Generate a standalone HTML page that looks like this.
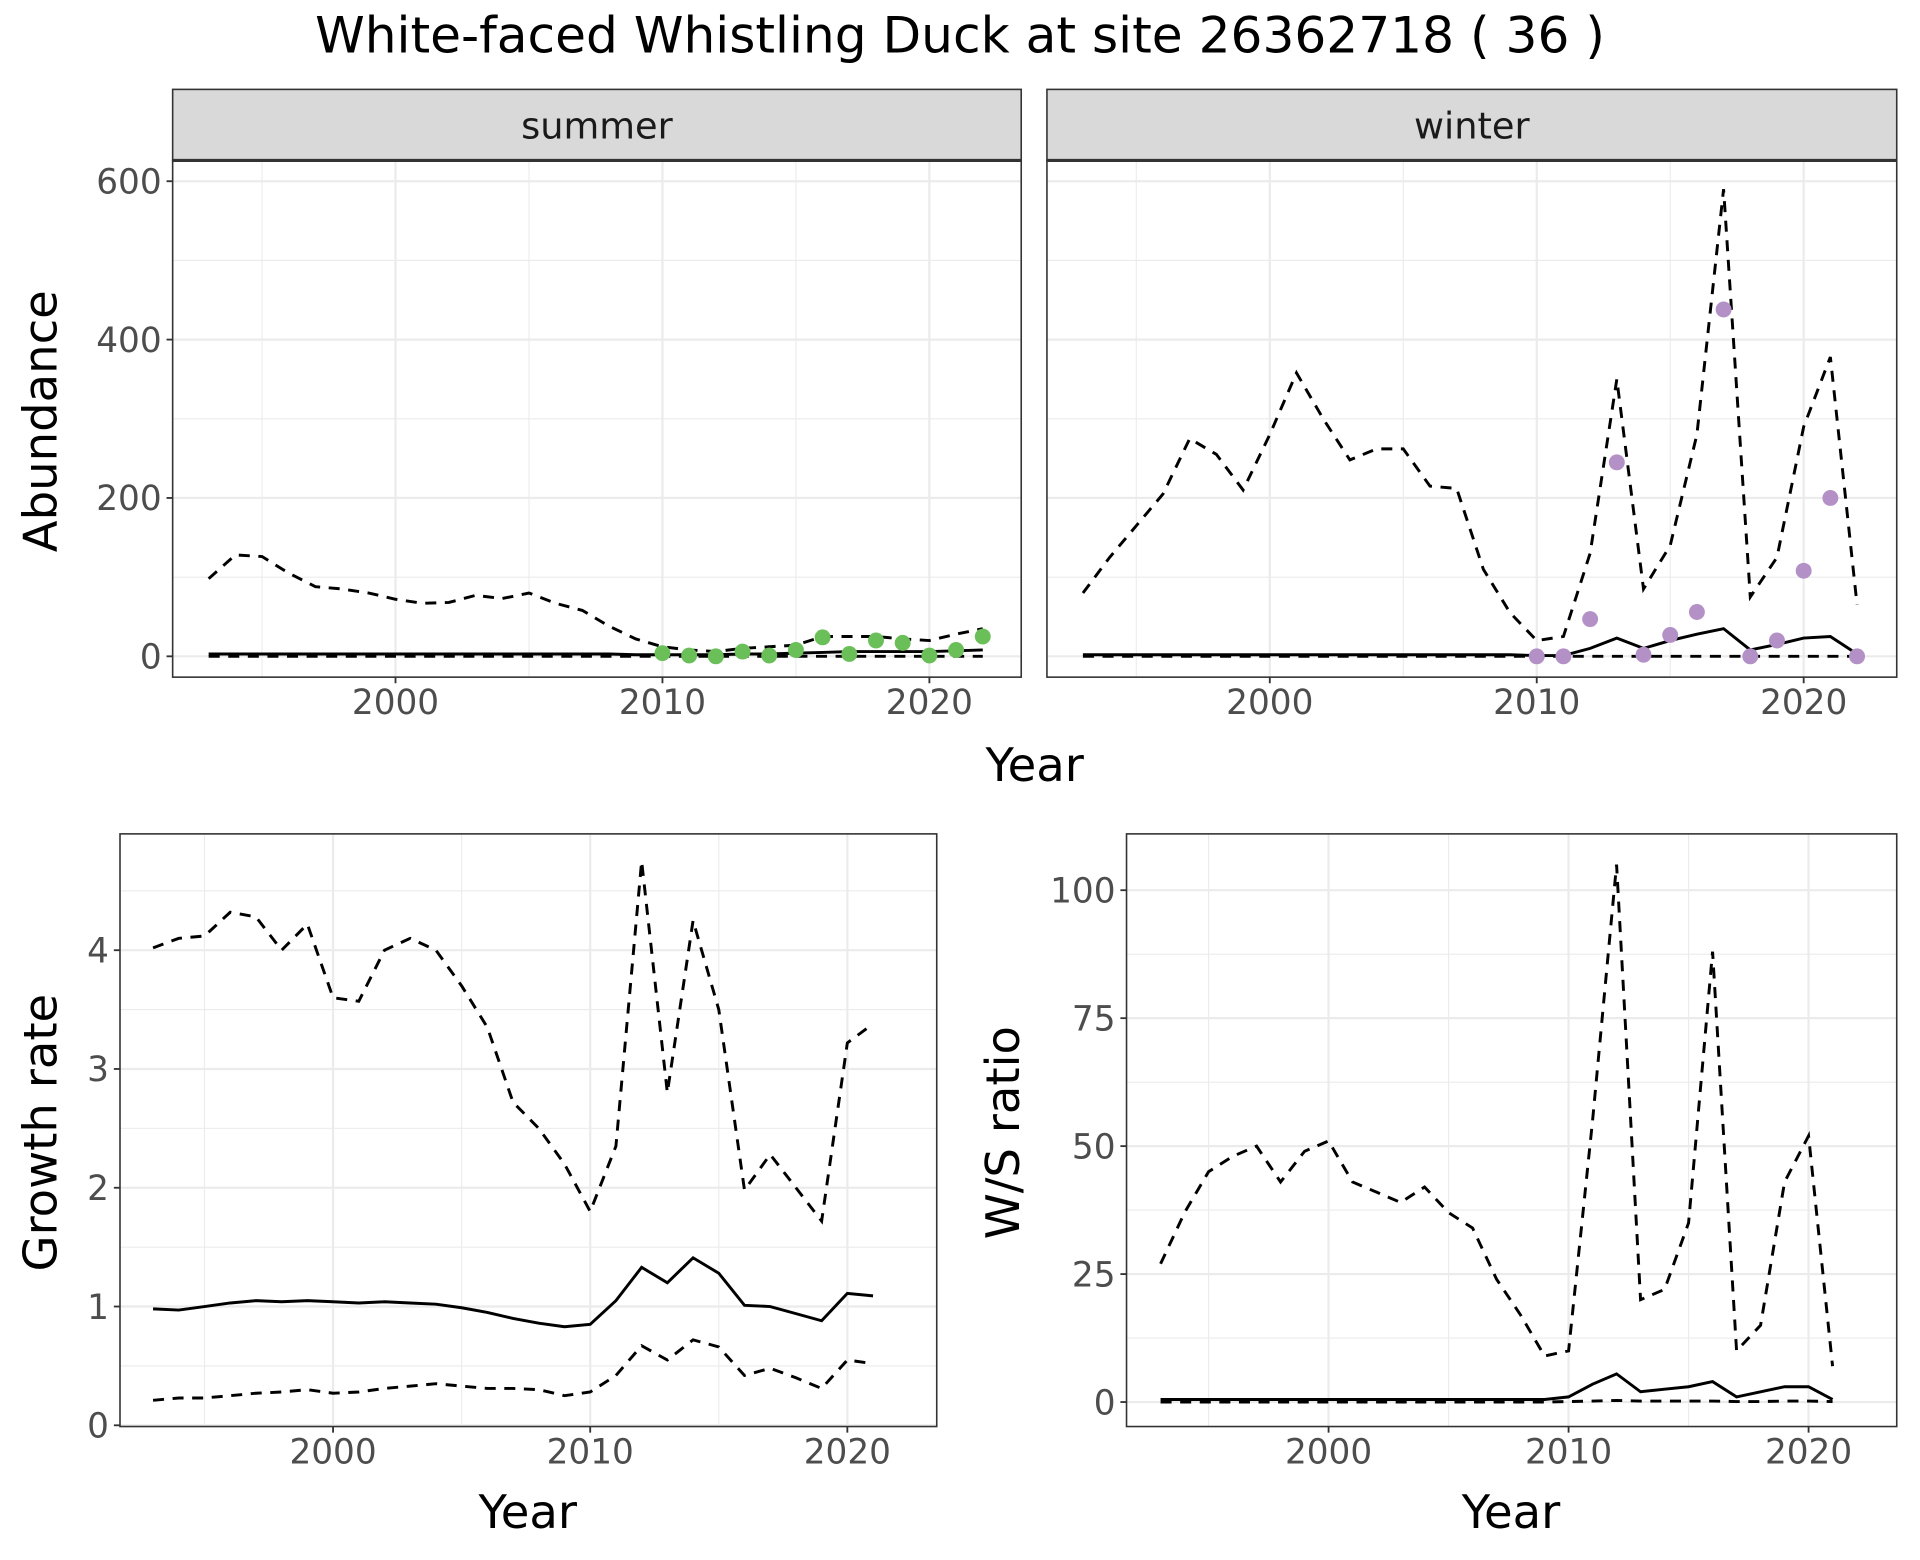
<!DOCTYPE html>
<html><head><meta charset="utf-8"><style>
html,body{margin:0;padding:0;background:#fff}
svg{display:block}
text{font-family:"DejaVu Sans","Liberation Sans",sans-serif}
</style></head><body>
<svg id="chart" width="1920" height="1560" viewBox="0 0 1568 1274" xmlns="http://www.w3.org/2000/svg">
<text x="784" y="43" font-size="41" text-anchor="middle">White-faced Whistling Duck at site 26362718 ( 36 )</text>
<g id="g"></g>
</svg>
<script>
const yearsAb = [1993,1994,1995,1996,1997,1998,1999,2000,2001,2002,2003,2004,2005,2006,2007,2008,2009,2010,2011,2012,2013,2014,2015,2016,2017,2018,2019,2020,2021,2022];
const summerUpper = [98,128,126,105,88,85,80,72,67,68,77,73,80,67,58,38,22,12,8,6,10,12,14,25,25,25,22,20,28,35];
const summerMid = [3,3,3,3,3,3,3,3,3,3,3,3,3,3,3,3,2,2,2,2,3,3,4,5,6,6,6,6,7,8];
const summerLower = [0,0,0,0,0,0,0,0,0,0,0,0,0,0,0,0,0,0,0,0,0,0,0,0,0,0,0,0,0,0];
const winterUpper = [80,125,165,205,275,255,210,280,358,300,248,262,262,215,212,110,55,20,25,130,350,85,140,280,590,75,125,290,378,65];
const winterMid = [2,2,2,2,2,2,2,2,2,2,2,2,2,2,2,2,2,1,1,10,23,10,20,28,35,8,15,23,25,3];
const winterLower = [0,0,0,0,0,0,0,0,0,0,0,0,0,0,0,0,0,0,0,0,0,0,0,0,0,0,0,0,0,0];
const obsYears = [2010,2011,2012,2013,2014,2015,2016,2017,2018,2019,2020,2021,2022];
const summerObs = [4,1,0,6,1,8,24,3,20,17,1,8,25];
const winterObs = [0,0,47,245,2,27,56,438,0,20,108,200,0];
const yearsGr = [1993,1994,1995,1996,1997,1998,1999,2000,2001,2002,2003,2004,2005,2006,2007,2008,2009,2010,2011,2012,2013,2014,2015,2016,2017,2018,2019,2020,2021];
const growthUpper = [4.02,4.1,4.12,4.32,4.28,4.0,4.22,3.6,3.57,4.0,4.1,4.0,3.7,3.35,2.72,2.5,2.2,1.8,2.35,4.75,2.8,4.25,3.5,1.98,2.28,2.0,1.72,3.22,3.38];
const growthMid = [0.98,0.97,1.0,1.03,1.05,1.04,1.05,1.04,1.03,1.04,1.03,1.02,0.99,0.95,0.9,0.86,0.83,0.85,1.05,1.33,1.2,1.41,1.28,1.01,1.0,0.94,0.88,1.11,1.09];
const growthLower = [0.21,0.23,0.23,0.25,0.27,0.28,0.3,0.27,0.28,0.31,0.33,0.35,0.33,0.31,0.31,0.3,0.25,0.28,0.42,0.67,0.55,0.72,0.66,0.42,0.48,0.4,0.31,0.55,0.52];
const ratioUpper = [27,37,45,48,50,43,49,51,43,41,39,42,37,34,24,17,9,10,55,105,20,22,35,88,10,15,43,52,7];
const ratioMid = [0.5,0.5,0.5,0.5,0.5,0.5,0.5,0.5,0.5,0.5,0.5,0.5,0.5,0.5,0.5,0.5,0.5,1,3.5,5.5,2,2.5,3,4,1,2,3,3,0.5];
const ratioLower = [0,0,0,0,0,0,0,0,0,0,0,0,0,0,0,0,0,0.1,0.2,0.3,0.2,0.2,0.2,0.2,0.1,0.1,0.2,0.2,0.1];
const xTicks = [2000,2010,2020];
const abTicks = [0,200,400,600];
const grTicks = [0,1,2,3,4];
const raTicks = [0,25,50,75,100];

const NS='http://www.w3.org/2000/svg';
const G=document.getElementById('g');
function mk(tag,attrs,parent){const e=document.createElementNS(NS,tag);for(const k in attrs)e.setAttribute(k,attrs[k]);(parent||G).appendChild(e);return e;}

function panel(o){
  const sx=v=>o.px[0]+(v-2000)*(o.px[1]-o.px[0])/20;
  const sy=v=>o.py[0]+(v-o.yv[0])*(o.py[1]-o.py[0])/(o.yv[1]-o.yv[0]);
  const grp=mk('g',{});
  
  
  for(let y=1990;y<=2025;y+=5){if(y%10===0)continue;const X=sx(y);if(X<o.x0||X>o.x1)continue;mk('line',{x1:X,x2:X,y1:o.y0,y2:o.y1,stroke:'#ebebeb','stroke-width':0.9},grp);}
  const step=o.yt[1]-o.yt[0];
  for(let v=o.yt[0]-step/2;v<=o.yt[o.yt.length-1]+step;v+=step){const Y=sy(v);if(Y<o.y0||Y>o.y1)continue;mk('line',{x1:o.x0,x2:o.x1,y1:Y,y2:Y,stroke:'#ebebeb','stroke-width':0.9},grp);}
  xTicks.forEach(t=>{const X=sx(t);mk('line',{x1:X,x2:X,y1:o.y0,y2:o.y1,stroke:'#ebebeb','stroke-width':1.8},grp);});
  o.yt.forEach(t=>{const Y=sy(t);mk('line',{x1:o.x0,x2:o.x1,y1:Y,y2:Y,stroke:'#ebebeb','stroke-width':1.8},grp);});
  o.series.forEach(s=>{
    const d=s.vals.map((v,i)=>(i?'L':'M')+sx(s.xs[i]).toFixed(1)+','+sy(v).toFixed(1)).join('');
    const p=mk('path',{d:d,fill:'none',stroke:'#000','stroke-width':2.4,'stroke-dasharray':s.dash?'9,7':'none'},grp);
    
    
  });
  if(o.pts){o.pts.vals.forEach((v,i)=>{const c=mk('circle',{cx:sx(o.pts.xs[i]),cy:sy(v),r:6.5,fill:o.pts.color},grp);
    
    });}
  mk('rect',{x:o.x0,y:o.y0,width:o.x1-o.x0,height:o.y1-o.y0,fill:'none',stroke:'#333','stroke-width':1.3},grp);
  xTicks.forEach(t=>{const X=sx(t);mk('line',{x1:X,x2:X,y1:o.y1,y2:o.y1+5,stroke:'#333','stroke-width':1.5},grp);
    const tx=mk('text',{x:X,y:o.y1+30,'font-size':28,fill:'#4d4d4d','text-anchor':'middle'},grp);tx.textContent=t;
    
    });
  if(o.showY){o.yt.forEach(t=>{const Y=sy(t);mk('line',{x1:o.x0-5,x2:o.x0,y1:Y,y2:Y,stroke:'#333','stroke-width':1.5},grp);
    const tx=mk('text',{x:o.x0-9,y:Y+10,'font-size':28,fill:'#4d4d4d','text-anchor':'end'},grp);tx.textContent=t;
    
    });}
  if(o.strip){mk('rect',{x:o.x0,y:o.y0-58,width:o.x1-o.x0,height:58,fill:'#d9d9d9',stroke:'#333','stroke-width':1.3},grp);
    mk('line',{x1:o.x0,x2:o.x1,y1:o.y0,y2:o.y0,stroke:'#333','stroke-width':2.5},grp);
    const st=mk('text',{x:(o.x0+o.x1)/2,y:o.y0-18,'font-size':30,fill:'#1a1a1a','text-anchor':'middle'},grp);st.textContent=o.strip;
    
    }
}
function label(txt,x,y,rot,name){const t=mk('text',{x:x,y:y,'font-size':38,'text-anchor':'middle'});
  if(rot)t.setAttribute('transform',`rotate(-90 ${x} ${y})`);
  t.textContent=txt;
  
  }

panel({name:'summer-panel',x0:141,x1:834,y0:131,y1:553,px:[323,759],py:[536,148],yv:[0,600],yt:abTicks,showY:true,strip:'summer',
  series:[{name:'summer-upper-line',xs:yearsAb,vals:summerUpper,dash:1},{name:'summer-mid-line',xs:yearsAb,vals:summerMid},{name:'summer-lower-line',xs:yearsAb,vals:summerLower,dash:1}],
  pts:{xs:obsYears,vals:summerObs,color:'#6abf59'}});
panel({name:'winter-panel',x0:855,x1:1549,y0:131,y1:553,px:[1037,1473],py:[536,148],yv:[0,600],yt:abTicks,showY:false,strip:'winter',
  series:[{name:'winter-upper-line',xs:yearsAb,vals:winterUpper,dash:1},{name:'winter-mid-line',xs:yearsAb,vals:winterMid},{name:'winter-lower-line',xs:yearsAb,vals:winterLower,dash:1}],
  pts:{xs:obsYears,vals:winterObs,color:'#b391c6'}});
panel({name:'growth-panel',x0:98,x1:765,y0:681,y1:1165,px:[272,692],py:[1164,776],yv:[0,4],yt:grTicks,showY:true,
  series:[{name:'growth-upper-line',xs:yearsGr,vals:growthUpper,dash:1},{name:'growth-mid-line',xs:yearsGr,vals:growthMid},{name:'growth-lower-line',xs:yearsGr,vals:growthLower,dash:1}]});
panel({name:'ratio-panel',x0:920,x1:1549,y0:681,y1:1165,px:[1085,1477],py:[1145,727],yv:[0,100],yt:raTicks,showY:true,
  series:[{name:'ratio-upper-line',xs:yearsGr,vals:ratioUpper,dash:1},{name:'ratio-mid-line',xs:yearsGr,vals:ratioMid},{name:'ratio-lower-line',xs:yearsGr,vals:ratioLower,dash:1}]});
label('Abundance',46,344,true,'y-axis-title-abundance');
label('Year',845,638,false,'x-axis-title-top');
label('Growth rate',46,925,true,'y-axis-title-growth');
label('Year',431,1248,false,'x-axis-title-growth');
label('W/S ratio',832,925,true,'y-axis-title-ratio');
label('Year',1234,1248,false,'x-axis-title-ratio');
</script>
</body></html>
